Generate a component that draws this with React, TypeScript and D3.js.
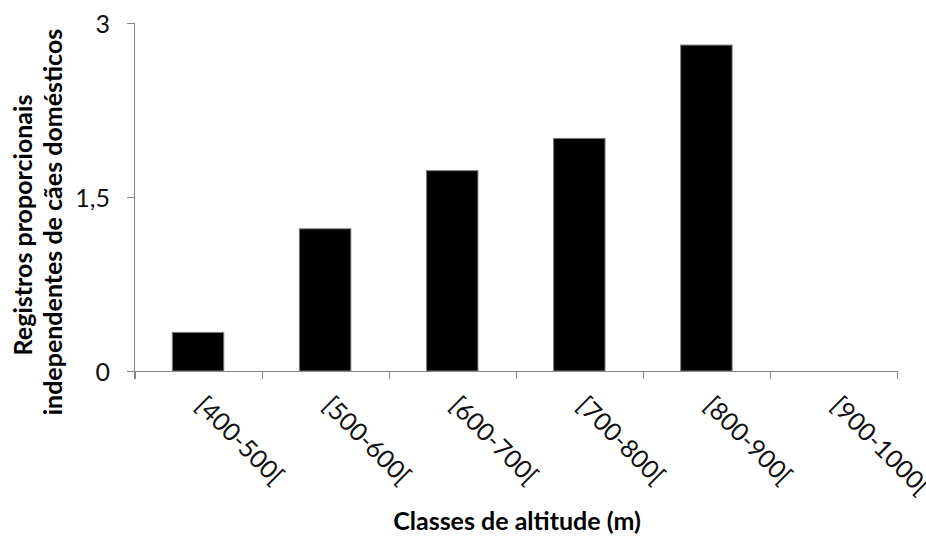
import React from "react";
import * as d3 from "d3";

const categories = ["[400-500[", "[500-600[", "[600-700[", "[700-800[", "[800-900[", "[900-1000["];
const values = [0.333, 1.226, 1.727, 2.005, 2.81, 0];
const yTicks = [0, 1.5, 3];
const yTitleLines = ["Registros proporcionais", "independentes de cães domésticos"];
const xTitle = "Classes de altitude (m)";

const W = 926;
const H = 536;
const FONT = "Lato, 'Open Sans', sans-serif";
const FS = 25;

export default function App() {
  const x = d3
    .scaleBand<string>()
    .domain(categories)
    .range([134.5, 897])
    .paddingInner(0.595)
    .paddingOuter(0.2975);
  const y = d3.scaleLinear().domain([0, 3]).range([371, 23]);
  const step = x.step();
  const boundaries = d3.range(categories.length + 1).map((i) => 134.5 + i * step);
  const fmt = (v: number) => String(v).replace(".", ",");
  const axisColor = "#868686";

  return (
    <svg
      width={W}
      height={H}
      style={{ position: "absolute", left: 0, top: 0, background: "#fff" }}
      fontFamily={FONT}
    >
      {values.map((v, i) => (
        <rect
          key={i}
          x={x(categories[i])!}
          y={y(v)}
          width={x.bandwidth()}
          height={y(0) - y(v)}
          fill="#000"
          stroke="#7f7f7f"
          strokeWidth={1}
        />
      ))}
      <line x1={134.5} x2={134.5} y1={y(3)} y2={y(0) + 8} stroke={axisColor} />
      {yTicks.map((t) => (
        <g key={t}>
          <line x1={127} x2={134.5} y1={Math.round(y(t)) + 0.5} y2={Math.round(y(t)) + 0.5} stroke={axisColor} />
          <text
            x={110}
            y={y(t)}
            textAnchor="end"
            dominantBaseline="central"
            fontSize={FS}
            fill="#111"
          >
            {fmt(t)}
          </text>
        </g>
      ))}
      <line x1={134.5} x2={897} y1={y(0) + 0.5} y2={y(0) + 0.5} stroke={axisColor} />
      {boundaries.map((b, i) => (
        <line key={i} x1={Math.round(b) + 0.5} x2={Math.round(b) + 0.5} y1={y(0)} y2={y(0) + 8} stroke={axisColor} />
      ))}
      {categories.map((c) => {
        const cx = x(c)! + x.bandwidth() / 2;
        return (
          <text
            key={c}
            transform={`translate(${cx - 4},407) rotate(45)`}
            textAnchor="start"
            fontSize={FS}
            fill="#111"
          >
            {c}
          </text>
        );
      })}
      <text x={517} y={530} textAnchor="middle" fontSize={FS} fontWeight="bold" fill="#000">
        {xTitle}
      </text>
      {yTitleLines.map((l, i) => (
        <text
          key={i}
          transform={`translate(${32 + i * 30},${i === 0 ? 225 : 222}) rotate(-90)`}
          textAnchor="middle"
          fontSize={FS}
          fontWeight="bold"
          fill="#000"
        >
          {l}
        </text>
      ))}
    </svg>
  );
}
